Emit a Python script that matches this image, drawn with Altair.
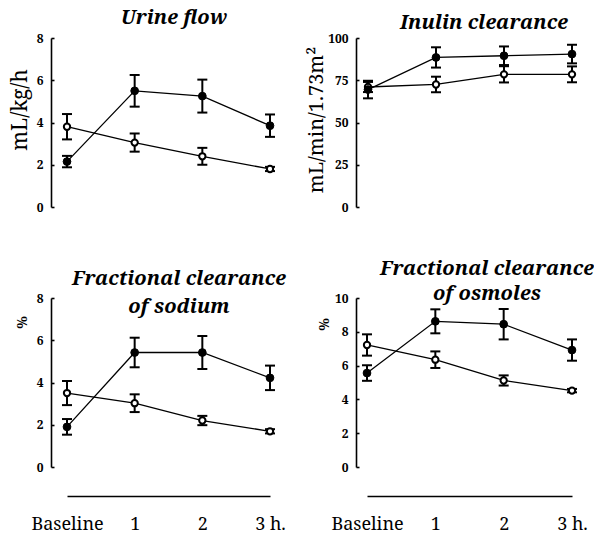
import altair as alt
import pandas as pd

times = [0, 1, 2, 3]
time_labels = ["Baseline", "1", "2", "3 h."]

urine_filled = [2.15, 5.5, 5.25, 3.85]
urine_filled_err = [0.27, 0.75, 0.78, 0.53]
urine_open = [3.8, 3.05, 2.4, 1.8]
urine_open_err = [0.6, 0.43, 0.4, 0.1]

inulin_filled = [69.5, 88.5, 89.5, 90.5]
inulin_filled_err = [5.2, 6.0, 5.5, 5.5]
inulin_open = [71.0, 72.5, 78.5, 78.5]
inulin_open_err = [3.0, 4.6, 4.8, 4.7]

fena_filled = [1.9, 5.42, 5.42, 4.22]
fena_filled_err = [0.37, 0.7, 0.78, 0.58]
fena_open = [3.5, 3.02, 2.2, 1.69]
fena_open_err = [0.57, 0.42, 0.22, 0.1]

feosm_filled = [5.56, 8.62, 8.45, 6.92]
feosm_filled_err = [0.46, 0.71, 0.9, 0.63]
feosm_open = [7.22, 6.35, 5.12, 4.52]
feosm_open_err = [0.63, 0.49, 0.3, 0.1]

W = 235
H = 169
SERIF = "Noto Serif"


def panel(filled, filled_err, open_, open_err, ymax, ystep, ytitle, ytitle_size,
          ytitle_weight, ytitle_x, ytitle_y, title_lines, title_x, title_y,
          title_lh, xr, bottom):
    rows = []
    for g, m, e in (("filled", filled, filled_err), ("open", open_, open_err)):
        for t, mv, ev in zip(times, m, e):
            rows.append({"t": t, "grp": g, "mean": mv, "lo": mv - ev, "hi": mv + ev})
    df = pd.DataFrame(rows)
    base = alt.Chart(df)
    xscale = alt.Scale(domain=[0, 3], range=xr)
    yscale = alt.Scale(domain=[0, ymax], nice=False, zero=True)
    tick_vals = list(range(0, ymax + 1, ystep))

    if bottom:
        label_expr = ("['" + "','".join(time_labels) + "'][datum.value]")
        xaxis = alt.Axis(values=times, labelExpr=label_expr, domain=True,
                         domainColor="black", domainWidth=1.3, ticks=False,
                         tickSize=0, grid=False, labelFont=SERIF,
                         labelFontSize=18, labelColor="black", labelPadding=19,
                         offset=29, title=None, labelFlush=False)
    else:
        xaxis = None
    x = alt.X("t:Q", scale=xscale, axis=xaxis)

    yaxis_left = alt.Axis(values=tick_vals, ticks=False, tickSize=0,
                          domainColor="black", domainWidth=1.6, grid=False,
                          labelFont=SERIF, labelFontWeight="bold",
                          labelFontSize=12, labelColor="black", labelPadding=8,
                          title=ytitle, titleFont=SERIF,
                          titleFontSize=ytitle_size,
                          titleFontWeight=ytitle_weight, titleColor="black",
                          titleX=ytitle_x, titleY=ytitle_y,
                          titleBaseline="alphabetic", titleAlign="center",
                          titleAngle=270)
    yaxis_ticks = alt.Axis(orient="right", offset=-W, values=tick_vals,
                           labels=False, domain=False, ticks=True, tickSize=3,
                           tickWidth=1.6, tickColor="black", grid=False,
                           title=None)

    line = base.mark_line(color="black", strokeWidth=1.3).encode(
        x=x, y=alt.Y("mean:Q", scale=yscale, axis=yaxis_left),
        detail="grp:N")
    rule = base.mark_rule(color="black", strokeWidth=2).encode(
        x=x, y=alt.Y("lo:Q", scale=yscale, axis=yaxis_ticks), y2="hi:Q")
    cap_lo = base.mark_tick(orient="horizontal", color="black", size=10,
                            thickness=2, opacity=1).encode(
        x=x, y=alt.Y("lo:Q", scale=yscale, axis=None))
    cap_hi = base.mark_tick(orient="horizontal", color="black", size=10,
                            thickness=2, opacity=1).encode(
        x=x, y=alt.Y("hi:Q", scale=yscale, axis=None))
    pts_open = base.transform_filter("datum.grp == 'open'").mark_point(
        shape="circle", filled=True, fill="white", stroke="black",
        strokeWidth=2, size=40, opacity=1).encode(
        x=x, y=alt.Y("mean:Q", scale=yscale, axis=None))
    pts_filled = base.transform_filter("datum.grp == 'filled'").mark_point(
        shape="circle", filled=True, fill="black", stroke="black",
        strokeWidth=1, size=60, opacity=1).encode(
        x=x, y=alt.Y("mean:Q", scale=yscale, axis=None))
    title = alt.Chart(pd.DataFrame({"k": [0]})).mark_text(
        font=SERIF, fontSize=20, fontWeight="bold", fontStyle="italic",
        color="black", align="center", baseline="alphabetic",
        lineHeight=title_lh).encode(
        x=alt.value(title_x), y=alt.value(title_y),
        text=alt.value(title_lines))

    return alt.layer(line, rule, cap_lo, cap_hi, pts_open, pts_filled,
                     title).resolve_axis(y="independent").properties(
        width=W, height=H)


p1 = panel(urine_filled, urine_filled_err, urine_open, urine_open_err,
           8, 2, "mL/kg/h", 21, "normal", -25, 71.5,
           ["Urine flow"], 123, -14, 28, [16, 219], False)
p2 = panel(inulin_filled, inulin_filled_err, inulin_open, inulin_open_err,
           100, 25, "mL/min/1.73m\u00b2", 20, "normal", -34, 81.5,
           ["Inulin clearance"], 128, -9, 28, [12, 216], False)
p3 = panel(fena_filled, fena_filled_err, fena_open, fena_open_err,
           8, 2, "%", 14, "bold", -25, 24,
           ["Fractional clearance", "of sodium"], 128, -13, 28, [16, 219], True)
p4 = panel(feosm_filled, feosm_filled_err, feosm_open, feosm_open_err,
           10, 2, "%", 14, "bold", -28, 26,
           ["Fractional clearance", "of osmoles"], 131, -23, 25, [11, 216], True)

chart = alt.concat(p1, p2, p3, p4, columns=2, bounds="flush",
                   spacing={"row": 91, "column": 70}).properties(
    padding={"left": 9, "top": 8, "right": 0, "bottom": 0},
    background="white").configure_view(stroke=None)

chart.save("out.html", embed_options={"renderer": "svg", "actions": False})
